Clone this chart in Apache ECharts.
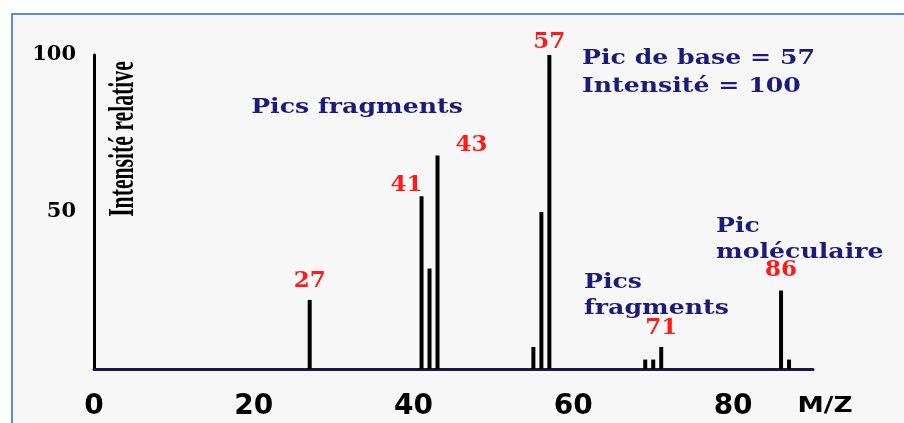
<!DOCTYPE html>
<html>
<head>
<meta charset="utf-8">
<script src="https://cdn.jsdelivr.net/npm/echarts@6/dist/echarts.min.js"></script>
<style>
  html, body { margin: 0; padding: 0; background: #ffffff; }
  #frame {
    position: absolute; left: 11px; top: 13px; width: 900px; height: 420px;
    background: #f7f7f7; border-left: 2px solid #5b8bd0; border-top: 2px solid #5b8bd0;
  }
  #chart { position: absolute; left: 0; top: 0; width: 904px; height: 423px; }
</style>
</head>
<body>
<div id="frame"></div>
<div id="chart"></div>
<script>
// Mass spectrum: m/z of each peak and its relative intensity (%)
const mz        = [27, 41, 42, 43, 55, 56, 57, 69, 70, 71, 86, 87];
const intensity = [22, 55, 32, 68,  7, 50, 100, 3,  3,  7, 25,  3];
// Peaks that carry a red m/z tag
const taggedPeaks = [27, 41, 43, 57, 71, 86];
const xTicks = [0, 20, 40, 60, 80];
const yTicks = [50, 100];

const navy = '#1c1c78';
const red = '#ff1a1a';
const serif = '"DejaVu Serif", "Liberation Serif", serif';

// Tag placement for each labelled peak
const tagOffset = { 27: [0, -2], 41: [-15, 5], 43: [34, 6], 57: [0, 4], 71: [0, -2], 86: [0, -4] };

const peakData = mz.map((m, i) => {
  const item = { value: [m, intensity[i]] };
  if (taggedPeaks.includes(m)) {
    item.label = {
      show: true, position: 'top', offset: tagOffset[m],
      formatter: String(m), color: red, fontFamily: serif,
      fontWeight: 'bold', fontSize: 23
    };
  }
  return item;
});

// Wide bold caption text
function caption(text, x, y, align) {
  return {
    type: 'text', x: x, y: y, scaleX: 1.26,
    style: { text: text, fill: navy, font: 'bold 20px ' + serif, align: align, verticalAlign: 'middle' }
  };
}

const chart = echarts.init(document.getElementById('chart'), null, { renderer: 'canvas' });
chart.setOption({
  backgroundColor: 'transparent',
  animation: false,
  grid: { left: 94, right: 91, top: 55, bottom: 54, containLabel: false },
  xAxis: {
    type: 'value', min: 0, max: 90, interval: 20,
    axisLine: { show: true, lineStyle: { color: '#1a1a40', width: 3 } },
    axisTick: { show: false },
    splitLine: { show: false },
    axisLabel: {
      margin: 24, color: '#000', fontFamily: '"DejaVu Sans", sans-serif',
      fontWeight: 'bold', fontSize: 28,
      formatter: v => (xTicks.includes(v) ? String(v) : '')
    }
  },
  yAxis: {
    type: 'value', min: 0, max: 100, interval: 50,
    axisLine: { show: true, lineStyle: { color: '#000', width: 3 } },
    axisTick: { show: false },
    splitLine: { show: false },
    axisLabel: {
      margin: 18, color: '#000', fontFamily: serif,
      fontWeight: 'bold', fontSize: 21,
      formatter: v => (yTicks.includes(v) ? String(v) : '')
    }
  },
  series: [{
    type: 'bar',
    barWidth: 4,
    itemStyle: { color: '#000' },
    data: peakData
  }],
  graphic: [
    {
      type: 'text', x: 124, y: 139, rotation: Math.PI / 2, scaleX: 0.62,
      style: {
        text: 'Intensité relative', fill: '#000', font: 'bold 35px "Liberation Serif", serif',
        align: 'center', verticalAlign: 'middle'
      }
    },
    {
      type: 'text', x: 825, y: 406, scaleX: 1.2,
      style: { text: 'M/Z', fill: '#000', font: 'bold 22px "DejaVu Sans", sans-serif', align: 'center', verticalAlign: 'middle' }
    },
    caption('Pics fragments', 357, 108, 'center'),
    caption('Pic de base = 57', 582, 59, 'left'),
    caption('Intensité = 100', 582, 87, 'left'),
    caption('Pic', 716, 227, 'left'),
    caption('moléculaire', 716, 253, 'left'),
    caption('Pics', 584, 283, 'left'),
    caption('fragments', 584, 309, 'left')
  ]
});
</script>
</body>
</html>
